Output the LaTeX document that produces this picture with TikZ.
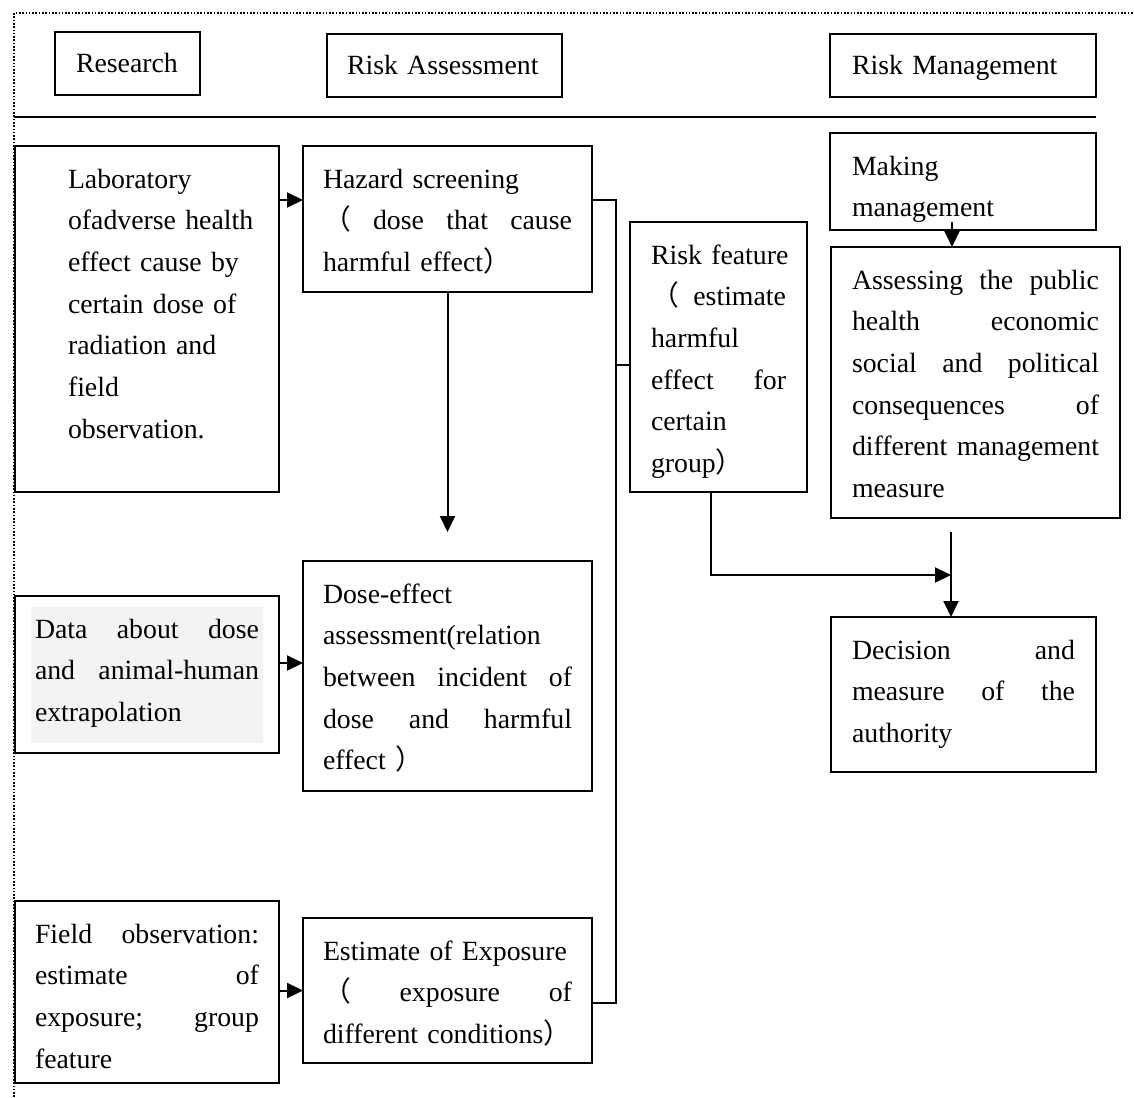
\documentclass[tikz,border=0pt]{standalone}
\usepackage{fontspec}
\setmainfont{Liberation Serif}
\newfontfamily\cjk{Noto Sans CJK SC}
\usetikzlibrary{arrows.meta,calc}
\definecolor{shadegray}{HTML}{F3F3F3}
\hyphenpenalty=10000
\exhyphenpenalty=10000
\tikzset{
  cell/.style={draw,line width=1pt,anchor=north west,outer sep=0pt,
    inner ysep=0pt,inner xsep=10pt,align=left,text height=21pt},
  head/.style={cell,text height=20.5pt,text depth=11pt},
  arr/.style={->,line width=1pt},
  wire/.style={line width=1pt},
}

\begin{document}
\begin{tikzpicture}[x=0.5pt,y=-0.5pt,font=\fontsize{13.9}{20.85}\selectfont,
    >={Triangle[length=8pt,width=7.5pt]}]
    \useasboundingbox (0,0) rectangle (1134,1097);
    \draw[line width=0.8pt,dash pattern=on 0.8pt off 0.85pt] (14,1097) -- (14,13) -- (1134,13);
    \draw[wire] (14,117) -- (1096,117);

    % column heads
    \node[head,inner xsep=10.5pt,text width=51.5pt] (res) at (55,32) {Research};
    \node[head,text width=97.5pt] (ra) at (327,34) {Risk Assessment};
    \node[head,inner xsep=11pt,text width=111pt] (rm) at (830,34) {Risk Management};

    % research
    \node[cell,text width=112pt,text depth=152pt] (lab) at (15,146)
        {\leftskip=16.5pt Laboratory\\ ofadverse health\\ effect cause by\\ certain dose of\\
         radiation and\\ field\\ observation.\par};
    \node[cell,text width=112pt,text depth=57.5pt,
        path picture={\fill[shadegray] ($(path picture bounding box.north west)+(8pt,-5.5pt)$)
          rectangle ($(path picture bounding box.south east)+(-8pt,5pt)$);}] (data) at (15,596)
        {Data\hfill about\hfill dose\\ and\hfill animal-human\\ extrapolation};
    \node[cell,text width=112pt,text depth=70pt] (field) at (15,901)
        {Field\hfill observation:\\ estimate\hfill of\\ exposure;\hfill group\\ feature};

    % assessment
    \node[cell,text width=124.5pt,text depth=52pt] (haz) at (303,146)
        {Hazard~screening\\ {\cjk （}\hfill dose\hfill that\hfill cause\\ harmful~effect{\cjk ）}};
    \node[cell,text width=124.5pt,text depth=94pt] (dose) at (303,561)
        {Dose-effect\\ assessment(relation\\ between\hfill incident\hfill of\\
         dose\hfill and\hfill harmful\\ effect {\cjk ）}};
    \node[cell,text width=124.5pt,text depth=51.5pt] (expo) at (303,918)
        {Estimate~of~Exposure\\ {\cjk （}\hfill exposure\hfill of\\ different~conditions{\cjk ）}};
    \node[cell,inner xsep=10.5pt,text width=67.5pt,text depth=114pt] (risk) at (630,222)
        {Risk~feature\\ {\cjk （}\hfill estimate\\ harmful\\ effect\hfill for\\ certain\\ group{\cjk ）}};

    % management
    \node[cell,inner xsep=11pt,text width=111pt,text depth=27.5pt] (make) at (830,133)
        {Making\\ management};
    \node[cell,inner xsep=10.5pt,text width=123.5pt,text depth=114.5pt] (assess) at (831,247)
        {Assessing\hfill the\hfill public\\ health\hfill economic\\ social\hfill and\hfill political\\
         consequences\hfill of\\ different\hfill management\\ measure};
    \node[cell,inner xsep=10.5pt,text width=111.5pt,text depth=56.5pt] (dec) at (831,617)
        {Decision\hfill and\\ measure\hfill of\hfill the\\ authority};

    \coordinate (hzin) at ([yshift=-27pt]haz.north west);
    \coordinate (hzout) at ([yshift=-27pt]haz.north east);
    \coordinate (dsin) at ([yshift=-51pt]dose.north west);
    \coordinate (exout) at ([yshift=30pt]expo.south east);
    \coordinate (rkin) at ([yshift=-71.5pt]risk.north west);
    \coordinate (mkout) at ([xshift=-5.5pt,yshift=4pt]make.south);
    \coordinate (decin) at ([xshift=-6.25pt]dec.north);

    \draw[arr] (lab.east |- hzin) -- (hzin);
    \draw[arr] (data.east |- dsin) -- (dsin);
    \draw[arr] (field.east |- expo.west) -- (expo.west);
    \draw[arr] (haz.south) -- ([yshift=14.5pt]dose.north);
    \draw[wire] (hzout) -- ++(12pt,0) coordinate (brk) |- (exout);
    \draw[wire] (brk |- rkin) -- (rkin);
    \draw[arr] (mkout) -- (mkout |- assess.north);
    \draw[arr] ([yshift=-7pt]assess.south -| decin) -- (decin);
    \draw[arr] ([xshift=-3.75pt]risk.south) |- ([yshift=21pt]decin);
\end{tikzpicture}
\end{document}
